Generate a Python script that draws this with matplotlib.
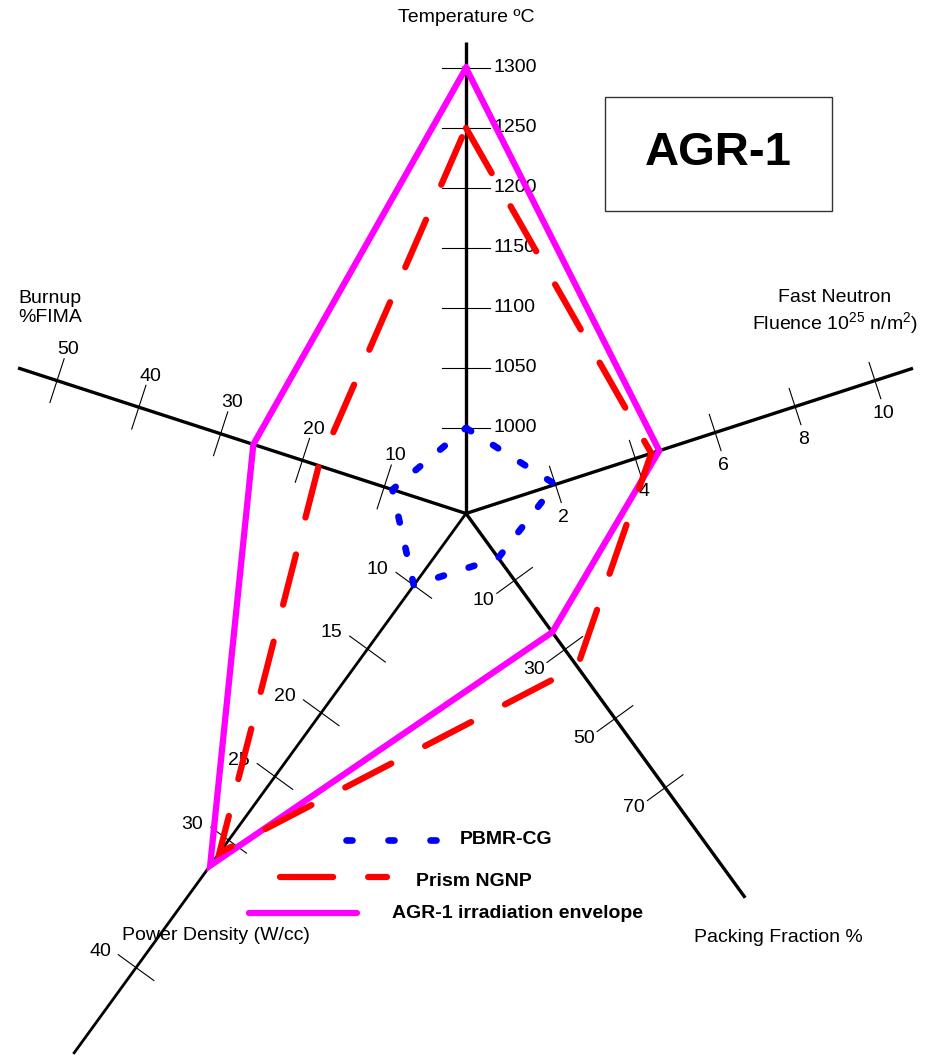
import matplotlib
matplotlib.use("Agg")
import matplotlib.pyplot as plt
import numpy as np
from matplotlib.patches import Rectangle

plt.rcParams["font.family"] = ["Liberation Sans", "DejaVu Sans"]
plt.rcParams["mathtext.fontset"] = "custom"
plt.rcParams["mathtext.rm"] = "Liberation Sans"

# spider axes, clockwise from the top
axis_titles = ["Temperature ºC", "Fast Neutron\nFluence 10$^{25}$ n/m$^{2}$)",
               "Packing Fraction %", "Power Density (W/cc)", "Burnup\n%FIMA"]
axis_angles = [90, 18, -54, -126, 162]

temp_ticks = [1000, 1050, 1100, 1150, 1200, 1250, 1300]
fluence_ticks = [2, 4, 6, 8, 10]
packing_ticks = [10, 30, 50, 70]
power_ticks = [10, 15, 20, 25, 30, 40]
burnup_ticks = [10, 20, 30, 40, 50]
axis_ticks = [temp_ticks, fluence_ticks, packing_ticks, power_ticks, burnup_ticks]

# temperature, fluence, packing fraction, power density, burnup
pbmr_cg = [1000, 2.0, 3.5, 10, 9]
prism_ngnp = [1250, 4.4, 35, 31, 18]
agr1_envelope = [1300, 4.6, 25, 32, 26]
series_labels = ["PBMR-CG", "Prism NGNP", "AGR-1 irradiation envelope"]

# layout (pixels): each axis maps value -> radius as r0 + k * (v - v0)
CX, CY = 466, 513.5
SCALES = [(85.5, 1000, 1.2), (10, 0, 42.0), (40, 0, 4.27), (88.8, 10, 15.75), (0, 0, 8.6)]
AXIS_LEN = [472, 470, 475, 668, 471]
TICK_HALF = [24, 19, 22, 22, 23]
LABEL_OFF = [(0, 49), (-76, 34), (213, 37), (156, 39.5), (70, 33)]


def radius(i, v):
    r0, v0, k = SCALES[i]
    return r0 + k * (v - v0)


def point(i, r):
    a = np.radians(axis_angles[i])
    return CX + r * np.cos(a), CY - r * np.sin(a)


def offset(x, y, ang, d):
    a = np.radians(ang)
    return x + d * np.cos(a), y - d * np.sin(a)


fig = plt.figure(figsize=(9.28, 10.55), dpi=100)
ax = fig.add_axes([0, 0, 1, 1])
ax.set_xlim(0, 928)
ax.set_ylim(1055, 0)
ax.axis("off")

for i in range(5):
    x1, y1 = point(i, AXIS_LEN[i])
    ax.plot([CX, x1], [CY, y1], color="black", lw=2.4 if i != 3 else 2.0,
            solid_capstyle="butt", zorder=2)
    perp = axis_angles[i] + 90
    for t in axis_ticks[i]:
        tx, ty = point(i, radius(i, t))
        ax.plot(*zip(offset(tx, ty, perp, TICK_HALF[i]), offset(tx, ty, perp, -TICK_HALF[i])),
                color="black", lw=0.8, zorder=2)
        lx, ly = offset(tx, ty, *LABEL_OFF[i])
        ax.text(lx, ly, str(t), fontsize=14, ha="center", va="center", zorder=1)

ax.text(466, 18, axis_titles[0], fontsize=14, ha="center", va="center")
ax.text(835, 313, axis_titles[1], fontsize=14, ha="center", va="center", multialignment="center")
ax.text(694, 937, axis_titles[2], fontsize=14, ha="left", va="center")
ax.text(122, 935, axis_titles[3], fontsize=14, ha="left", va="center", zorder=1)
ax.text(18, 308, axis_titles[4], fontsize=14, ha="left", va="center")


def outline(values):
    pts = [point(i, radius(i, v)) for i, v in enumerate(values)]
    pts.append(pts[0])
    return zip(*pts)


xs, ys = outline(agr1_envelope)
ax.plot(xs, ys, color="#FF00FF", lw=4.5, solid_joinstyle="miter", zorder=3)
xs, ys = outline(prism_ngnp)
ax.plot(xs, ys, color="#FF0000", lw=4.5, dashes=(8.3, 6.1), dash_capstyle="round",
        dash_joinstyle="miter", zorder=4)
xs, ys = outline(pbmr_cg)
ax.plot(xs, ys, color="#0000FF", lw=4.8, dashes=(0.9, 3.9), dash_capstyle="round", zorder=5)

# legend
ax.plot([346, 440], [840, 840], color="#0000FF", lw=4.8, dashes=(0.9, 5.4), dash_capstyle="round")
ax.plot([280, 387], [876.7, 876.7], color="#FF0000", lw=4.5, dashes=(8.5, 5.6), dash_capstyle="round")
ax.plot([249, 357], [912.7, 912.7], color="#FF00FF", lw=4.5, solid_capstyle="round")
ax.text(460, 840, series_labels[0], fontsize=14, fontweight="bold", ha="left", va="center")
ax.text(416, 881.7, series_labels[1], fontsize=14, fontweight="bold", ha="left", va="center")
ax.text(392, 913, series_labels[2], fontsize=14, fontweight="bold", ha="left", va="center")

# title box
ax.add_patch(Rectangle((605, 97), 227, 114, fill=False, edgecolor="#333333", lw=1))
ax.text(718.5, 153, "AGR-1", fontsize=34, fontweight="bold", ha="center", va="center")

fig.savefig("out.png", dpi=100)
